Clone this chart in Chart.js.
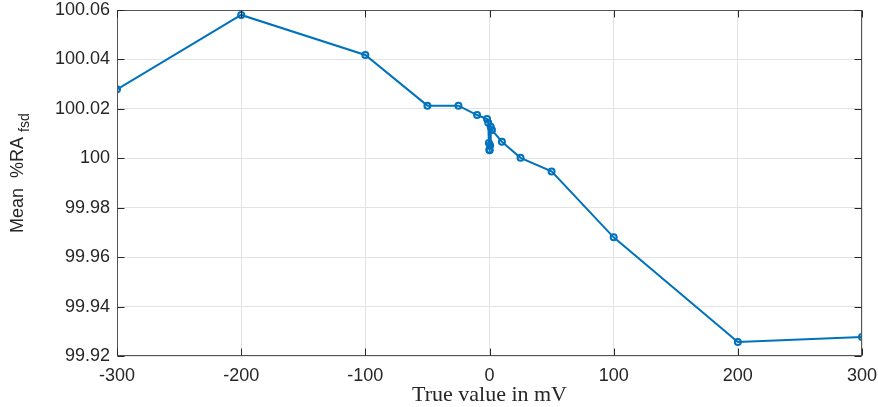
<!DOCTYPE html>
<html>
<head>
<meta charset="utf-8">
<script src="https://cdn.jsdelivr.net/npm/chart.js@4.4.1/dist/chart.umd.min.js"></script>
<style>
  html, body { margin: 0; padding: 0; background: #fff; }
  canvas { display: block; }
</style>
</head>
<body>
<canvas id="myChart" width="878" height="407"></canvas>
<script>
// true value (mV)
const trueValues = [-300, -200, -100, -50, -25, -10, -2, -1, -0.5, -0.1, 0.1, 0.5, 1, 2, 10, 25, 50, 100, 200, 300];
// mean %RA fsd
const meanRA = [
  100.0279, 100.058, 100.0418, 100.0213, 100.0213, 100.0175, 100.0159, 100.0144, 100.0062, 100.0035,
  100.0033, 100.0052, 100.0128, 100.0114, 100.0067, 100.0002, 99.9947, 99.968, 99.9257, 99.9277,
];
const xTicks = [-300, -200, -100, 0, 100, 200, 300];
const yTicks = [99.92, 99.94, 99.96, 99.98, 100, 100.02, 100.04, 100.06];

const points = trueValues.map((x, i) => ({ x: x, y: meanRA[i] }));

// fixed axis sizes, no automatic label overflow padding
function fixScale(size, horizontal) {
  return (s) => {
    if (horizontal) s.height = size;
    else s.width = size;
    s.paddingLeft = 0;
    s.paddingRight = 0;
    s.paddingTop = 0;
    s.paddingBottom = 0;
  };
}

const boxAndTitles = {
  id: 'boxAndTitles',
  afterDraw(chart) {
    const { ctx, chartArea: a, scales: { x, y } } = chart;
    const L = Math.round(a.left) + 0.5;
    const R = Math.round(a.right) - 0.5;
    const T = Math.round(a.top) + 0.5;
    const B = Math.round(a.bottom) - 0.5;
    const tl = 7;

    ctx.save();
    ctx.strokeStyle = '#555555';
    ctx.lineWidth = 1;
    ctx.strokeRect(L, T, R - L, B - T);

    // inward tick marks on all four sides
    ctx.strokeStyle = '#262626';
    ctx.beginPath();
    xTicks.forEach((v) => {
      const px = Math.round(x.getPixelForValue(v)) + 0.5;
      ctx.moveTo(px, B); ctx.lineTo(px, B - tl);
      ctx.moveTo(px, T); ctx.lineTo(px, T + tl);
    });
    yTicks.forEach((v) => {
      const py = Math.round(y.getPixelForValue(v)) + 0.5;
      ctx.moveTo(L, py); ctx.lineTo(L + tl, py);
      ctx.moveTo(R, py); ctx.lineTo(R - tl, py);
    });
    ctx.stroke();

    // x title
    ctx.fillStyle = '#262626';
    ctx.font = '22px "Liberation Serif"';
    ctx.textAlign = 'center';
    ctx.textBaseline = 'alphabetic';
    ctx.fillText('True value in mV', (a.left + a.right) / 2, 401);

    // y title with subscript
    ctx.translate(23, 233);
    ctx.rotate(-Math.PI / 2);
    ctx.textAlign = 'left';
    ctx.font = '18px "Liberation Sans"';
    const main = 'Mean  %RA ';
    ctx.fillText(main, 0, 0);
    const w = ctx.measureText(main).width;
    ctx.font = '14px "Liberation Sans"';
    ctx.fillText('fsd', w, 6);
    ctx.restore();
  },
};

const config = {
  type: 'line',
  data: {
    datasets: [
      {
        data: points,
        borderColor: '#0072BD',
        borderWidth: 2,
        tension: 0,
        pointStyle: 'circle',
        pointRadius: 3,
        pointBorderWidth: 2,
        pointBorderColor: '#0072BD',
        pointBackgroundColor: 'rgba(0,0,0,0)',
      },
    ],
  },
  options: {
    responsive: false,
    animation: false,
    devicePixelRatio: 1,
    layout: { padding: { top: 10, right: 16, left: 0, bottom: 0 } },
    plugins: {
      legend: { display: false },
      tooltip: { enabled: false },
    },
    scales: {
      x: {
        type: 'linear',
        min: -300,
        max: 300,
        afterFit: fixScale(51, true),
        afterBuildTicks: (s) => { s.ticks = xTicks.map((v) => ({ value: v })); },
        grid: { color: '#e3e3e3', drawTicks: false },
        border: { display: false },
        ticks: {
          padding: 9,
          color: '#262626',
          font: { family: 'Liberation Sans', size: 18 },
          maxRotation: 0,
          callback: (v) => String(v),
        },
      },
      y: {
        type: 'linear',
        min: 99.92,
        max: 100.06,
        afterFit: fixScale(117, false),
        afterBuildTicks: (s) => { s.ticks = yTicks.map((v) => ({ value: v })); },
        grid: { color: '#e3e3e3', drawTicks: false },
        border: { display: false },
        ticks: {
          padding: 7,
          color: '#262626',
          font: { family: 'Liberation Sans', size: 18 },
          callback: (v) => String(parseFloat(Number(v).toFixed(2))),
        },
      },
    },
  },
  plugins: [boxAndTitles],
};

const myChart = new Chart(document.getElementById('myChart'), config);
</script>
</body>
</html>
